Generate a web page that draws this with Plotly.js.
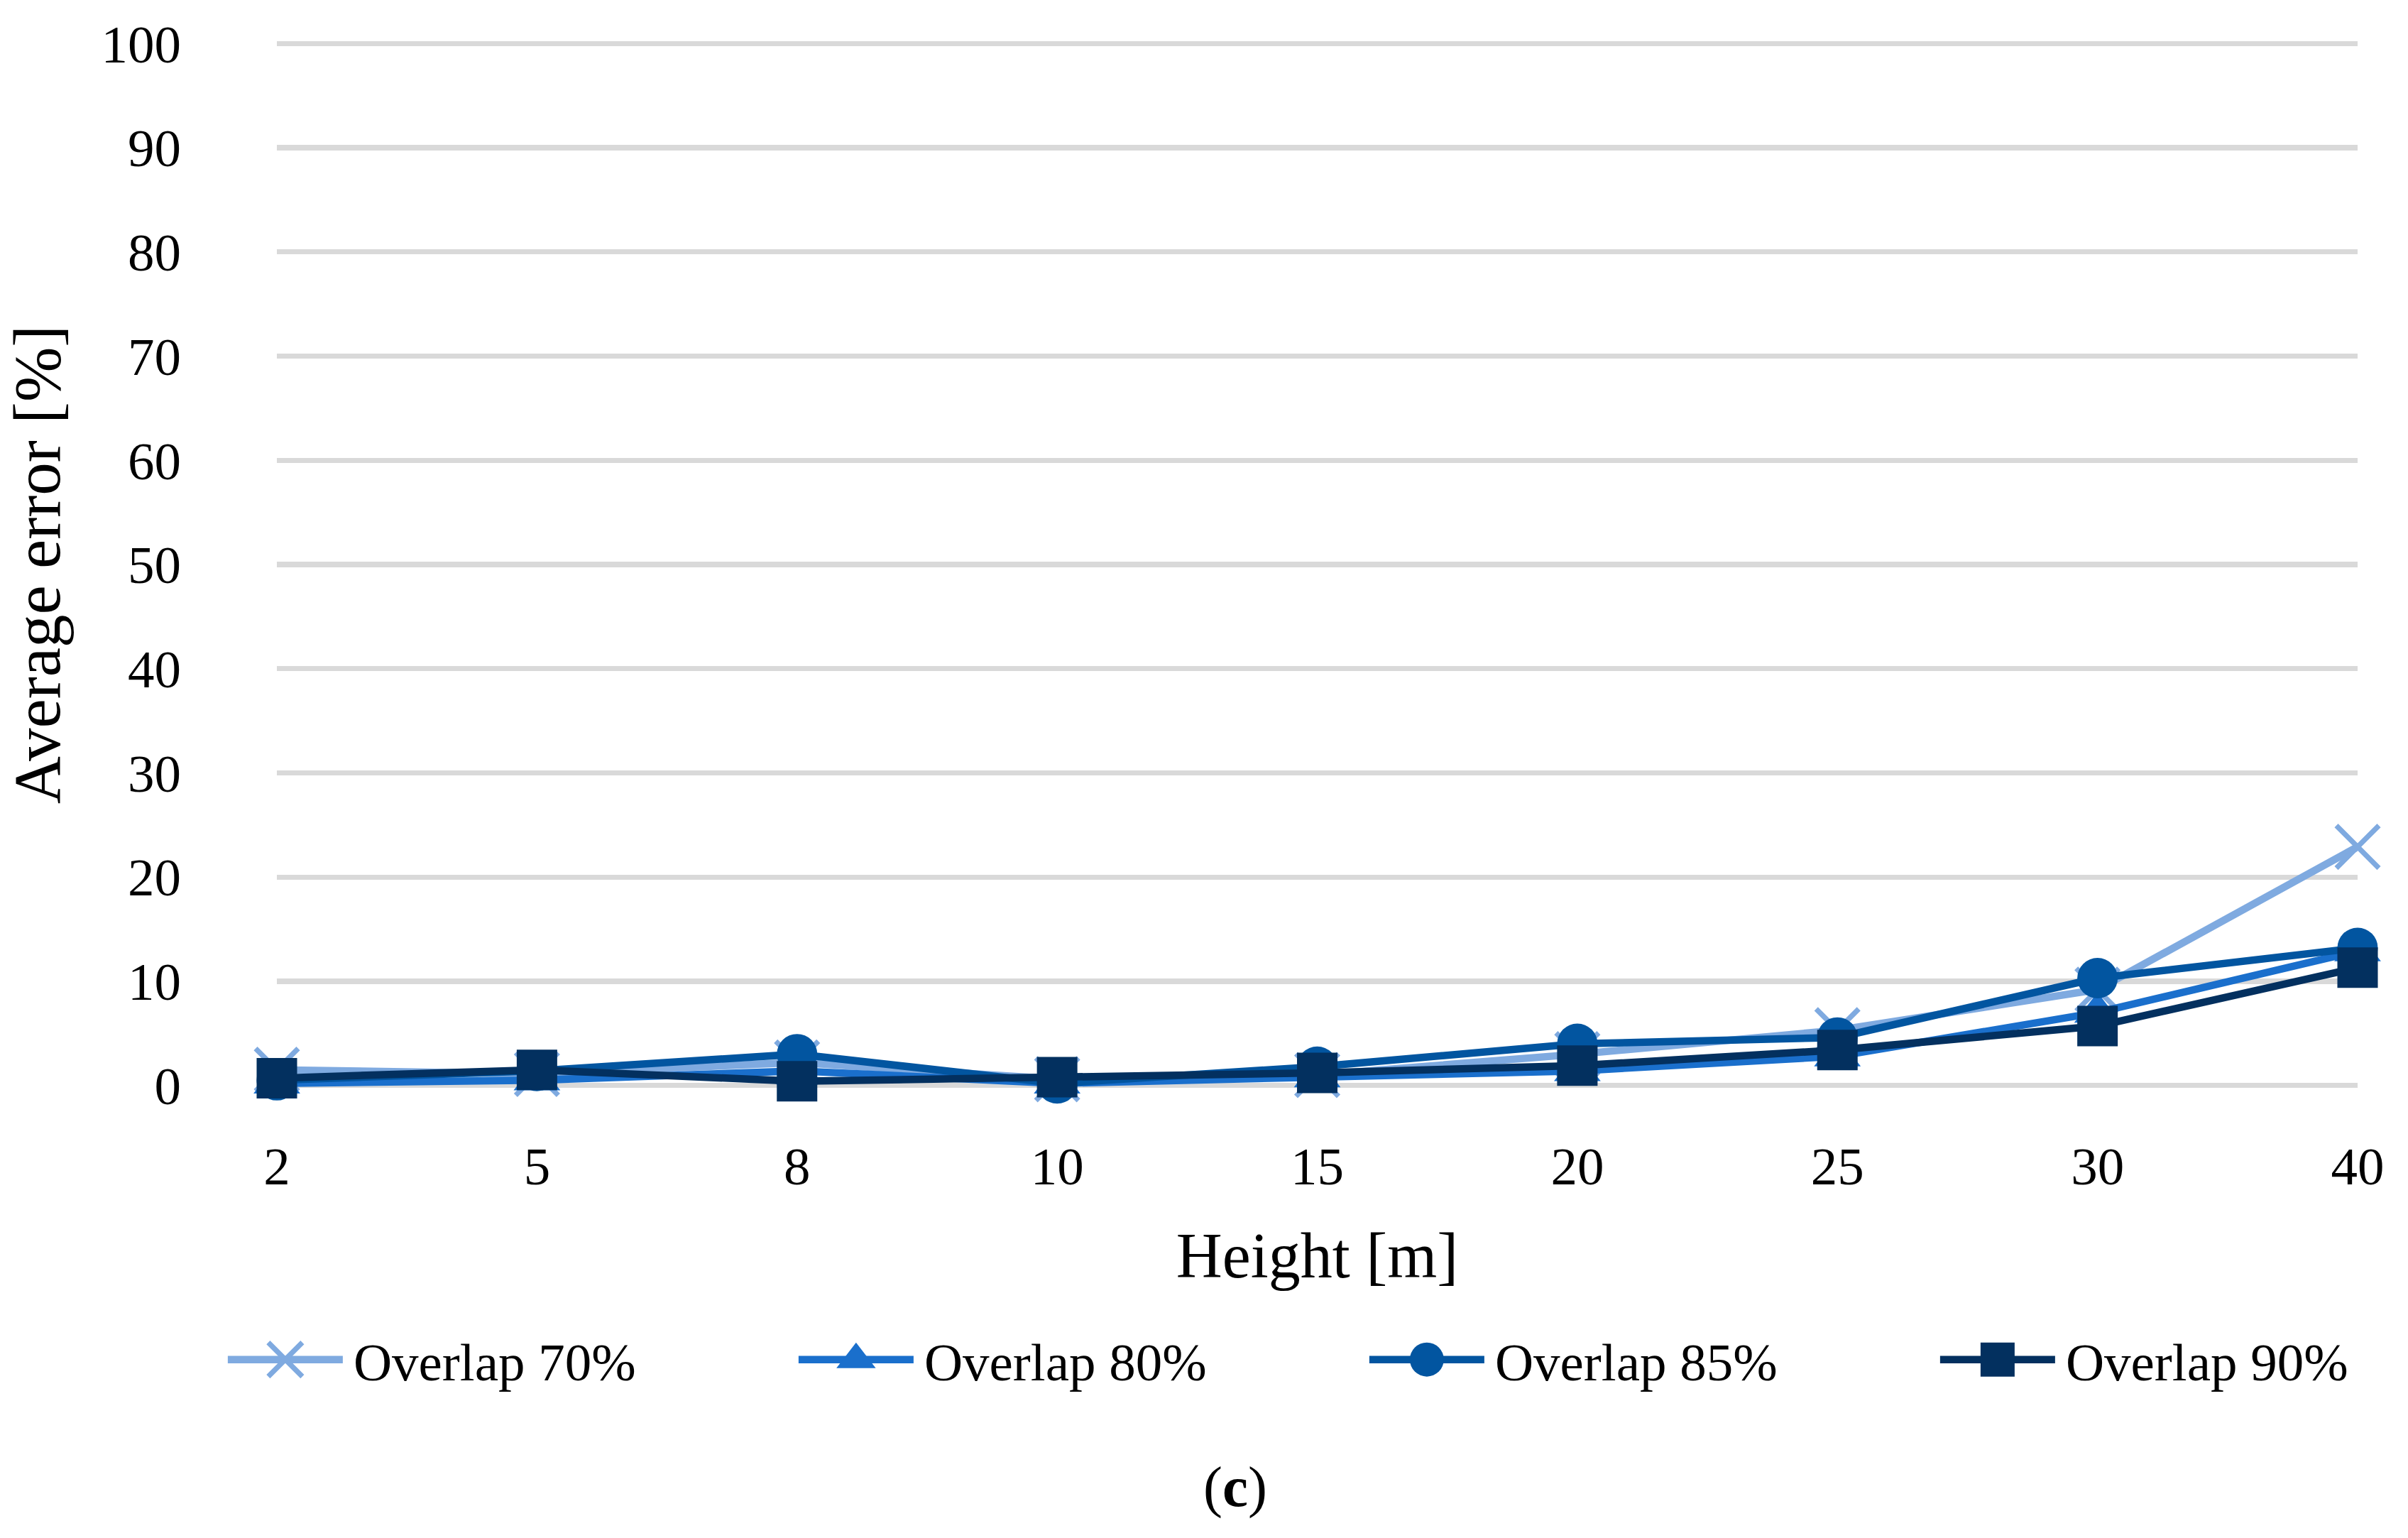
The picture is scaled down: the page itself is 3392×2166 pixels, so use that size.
<!DOCTYPE html>
<html>
<head>
<meta charset="utf-8">
<script src="https://cdn.plot.ly/plotly-3.0.1.min.js"></script>
<style>
html, body { margin: 0; padding: 0; background: #fff; overflow: hidden; }
#wrap { width: 3392px; height: 2166px; overflow: hidden; }
#chart { width: 1131px; height: 722px; transform: scale(3); transform-origin: 0 0; }
</style>
</head>
<body>
<div id="wrap"><div id="chart"></div></div>
<script>
const heights = ["2", "5", "8", "10", "15", "20", "25", "30", "40"];
const overlap70 = [1.5, 1.1, 2.2, 0.6, 1.0, 3.0, 5.3, 9.2, 22.9];
const overlap80 = [0.2, 0.5, 1.4, 0.2, 0.8, 1.4, 2.8, 7.0, 12.9];
const overlap85 = [0.5, 1.4, 3.0, 0.2, 1.8, 4.0, 4.6, 10.3, 13.2];
const overlap90 = [0.7, 1.5, 0.4, 0.8, 1.2, 1.9, 3.4, 5.7, 11.3];
const seriesNames = ["Overlap 70%", "Overlap 80%", "Overlap 85%", "Overlap 90%"];
const seriesColors = ["#7FAAE0", "#1A6FCC", "#0255A0", "#03305F"];
const seriesSymbols = ["x-thin", "triangle-up", "circle", "square"];
const yTicks = [0, 10, 20, 30, 40, 50, 60, 70, 80, 90, 100];

const FONT = "Liberation Serif, Times New Roman, serif";
const values = [overlap70, overlap80, overlap85, overlap90];

const traces = values.map((v, i) => {
  const isX = seriesSymbols[i] === "x-thin";
  const isLast = i === values.length - 1;
  return {
    type: "scatter",
    mode: "lines+markers",
    x: heights,
    y: v,
    name: seriesNames[i],
    cliponaxis: false,
    legendwidth: isLast ? 136 : 199,
    line: { color: seriesColors[i], width: 3.5 },
    marker: {
      symbol: seriesSymbols[i],
      size: isX ? 20 : 19,
      color: seriesColors[i],
      line: { color: seriesColors[i], width: isX ? 2.4 : 0 }
    }
  };
});

const layout = {
  width: 1131,
  height: 722,
  margin: { l: 130, r: 24, t: 17.5, b: 209.5 },
  paper_bgcolor: "#ffffff",
  plot_bgcolor: "#ffffff",
  font: { family: FONT, size: 25, color: "#000000" },
  showlegend: true,
  legend: {
    orientation: "h",
    xref: "paper",
    yref: "paper",
    x: -0.0287,
    y: -0.256,
    xanchor: "left",
    yanchor: "middle",
    font: { family: FONT, size: 25, color: "#000" },
    itemwidth: 54,
    entrywidthmode: "pixels",
    traceorder: "normal"
  },
  xaxis: {
    type: "category",
    categoryorder: "array",
    categoryarray: heights,
    range: [0, 8],
    showgrid: false,
    zeroline: false,
    showline: false,
    ticks: "",
    ticklabelstandoff: 18,
    tickfont: { family: FONT, size: 25, color: "#000" },
    title: { text: "Height [m]", font: { family: FONT, size: 30, color: "#000" }, standoff: 18 }
  },
  yaxis: {
    range: [-0.5, 100.5],
    tickvals: yTicks,
    showgrid: true,
    gridcolor: "#D9D9D9",
    gridwidth: 2.4,
    zeroline: false,
    showline: false,
    ticks: "",
    ticklabelstandoff: 44,
    tickfont: { family: FONT, size: 25, color: "#000" },
    title: { text: "Average error [%]", font: { family: FONT, size: 31, color: "#000" }, standoff: 14 }
  },
  annotations: [
    {
      text: "(<b>c</b>)",
      xref: "paper",
      yref: "paper",
      x: 0.4606,
      y: -0.377,
      xanchor: "center",
      yanchor: "middle",
      showarrow: false,
      font: { family: FONT, size: 27, color: "#000" }
    }
  ]
};

Plotly.newPlot("chart", traces, layout, { displayModeBar: false, staticPlot: true });
</script>
</body>
</html>
